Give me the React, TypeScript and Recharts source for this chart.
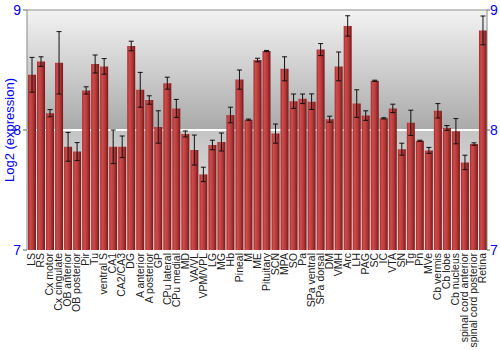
import { Bar, BarChart, CartesianGrid, ErrorBar, ReferenceLine, XAxis, YAxis } from 'recharts';

const tissues = [
  'LS', 'RS', 'Cx motor', 'Cx cingulate', 'OB anterior', 'OB posterior', 'Pir', 'Tu', 'ventral S', 'CA1',
  'CA2/CA3', 'DG', 'A anterior', 'A posterior', 'GP', 'CPu lateral', 'CPu medial', 'MD', 'VA/VL', 'VPM/VPL',
  'LG', 'MG', 'Hb', 'Pineal', 'M', 'ME', 'Pituitary', 'SCN', 'MPA', 'SO',
  'Pa', 'SPa ventral', 'SPa dorsal', 'DM', 'VMH', 'Arc', 'LH', 'PAG', 'SC', 'IC',
  'VTA', 'SN', 'Tg', 'Pn', 'MVe', 'Cb vermis', 'Cb lobe', 'Cb nucleus', 'spinal cord anterior', 'spinal cord posterior',
  'Retina'
];

const expression = [
  8.46, 8.57, 8.14, 8.56, 7.86, 7.82, 8.33, 8.55, 8.53, 7.86,
  7.86, 8.7, 8.335, 8.25, 8.025, 8.39, 8.18, 7.967, 7.833, 7.63,
  7.875, 7.9, 8.125, 8.42, 8.086, 8.583, 8.658, 7.97, 8.51, 8.24,
  8.26, 8.236, 8.67, 8.09, 8.53, 8.867, 8.22, 8.12, 8.41, 8.097,
  8.18, 7.84, 8.06, 7.91, 7.83, 8.16, 8.017, 7.99, 7.73, 7.883,
  8.83
];

const errors = [
  0.145, 0.04, 0.03, 0.26, 0.12, 0.075, 0.03, 0.075, 0.065, 0.14,
  0.09, 0.04, 0.145, 0.035, 0.135, 0.05, 0.075, 0.025, 0.125, 0.06,
  0.04, 0.075, 0.065, 0.08, 0.005, 0.015, 0.005, 0.08, 0.1, 0.06,
  0.04, 0.065, 0.05, 0.025, 0.12, 0.085, 0.115, 0.04, 0.005, 0.005,
  0.035, 0.05, 0.105, 0.005, 0.025, 0.06, 0.02, 0.105, 0.06, 0.01,
  0.12
];

const yTicks = [7, 8, 9];

const data = tissues.map((tissue, i) => ({ tissue, value: expression[i], err: errors[i] }));

const font = '"Liberation Sans", Arial, sans-serif';

function TissueTick({ x, y, payload }: any) {
  return (
    <text
      x={x}
      y={y}
      dy="0.36em"
      transform={`rotate(-90, ${x}, ${y})`}
      textAnchor="end"
      fontSize={10.5}
      fontFamily={font}
      fill="#222"
    >
      {payload.value}
    </text>
  );
}

export default function App() {
  return (
    <div style={{ position: 'absolute', left: 0, top: 0, background: '#fff' }}>
      <BarChart width={500} height={350} data={data} margin={{ top: 10, right: 0, bottom: 0, left: 0 }}>
        <defs>
          <linearGradient id="plotBg" x1="0" y1="0" x2="0" y2="1">
            <stop offset="0%" stopColor="#f3f3f3" />
            <stop offset="50%" stopColor="#a9a9a9" />
            <stop offset="50%" stopColor="#c4c4c4" />
            <stop offset="100%" stopColor="#efefef" />
          </linearGradient>
          <linearGradient id="barFill" x1="0" y1="0" x2="1" y2="0">
            <stop offset="0%" stopColor="#a52a2a" />
            <stop offset="25%" stopColor="#cc4c4c" />
            <stop offset="60%" stopColor="#b53a3a" />
            <stop offset="100%" stopColor="#7a1616" />
          </linearGradient>
        </defs>
        <CartesianGrid yAxisId="left" vertical={false} stroke="#ffffff" strokeWidth={2} fill="url(#plotBg)" />
        <XAxis dataKey="tissue" interval={0} height={100} tickLine={false} axisLine={false} tickSize={0} tickMargin={3} tick={<TissueTick />} />
        <YAxis
          yAxisId="left"
          width={27}
          domain={[7, 9]}
          ticks={yTicks}
          allowDataOverflow
          tickSize={4}
          tickMargin={2}
          tickLine={{ stroke: '#666' }}
          axisLine={{ stroke: '#888' }}
          tick={{ fill: '#0000ff', fontSize: 14, fontFamily: font }}
          label={{ value: 'Log2 (expression)', angle: -90, position: 'center', dx: -4, fill: '#0000ff', fontSize: 13, fontFamily: font }}
        />
        <YAxis
          yAxisId="right"
          orientation="right"
          width={13}
          domain={[7, 9]}
          ticks={yTicks}
          allowDataOverflow
          tickSize={3}
          tickMargin={0}
          tickLine={{ stroke: '#666' }}
          axisLine={{ stroke: '#888' }}
          tick={{ fill: '#0000ff', fontSize: 14, fontFamily: font }}
        />
        <Bar yAxisId="left" dataKey="value" barSize={8} fill="url(#barFill)" isAnimationActive={false}>
          <ErrorBar dataKey="err" direction="y" width={2.5} stroke="#111" strokeWidth={1} isAnimationActive={false} />
        </Bar>
        <ReferenceLine yAxisId="left" y={9} stroke="#888" strokeWidth={1} />
      </BarChart>
    </div>
  );
}
